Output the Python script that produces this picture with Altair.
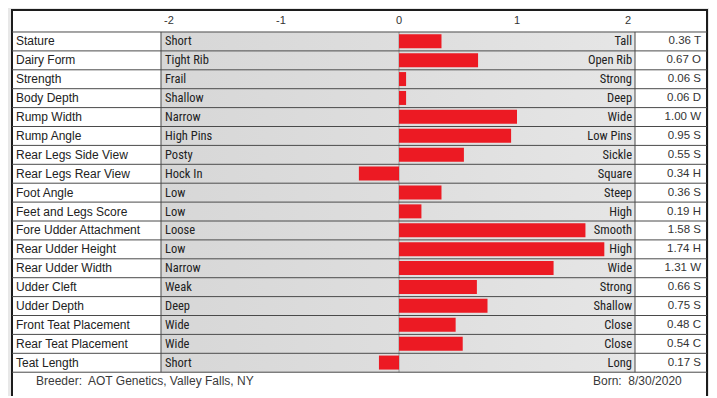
import altair as alt
import pandas as pd

# ---------------- data ----------------
traits = ["Stature", "Dairy Form", "Strength", "Body Depth", "Rump Width", "Rump Angle",
          "Rear Legs Side View", "Rear Legs Rear View", "Foot Angle", "Feet and Legs Score",
          "Fore Udder Attachment", "Rear Udder Height", "Rear Udder Width", "Udder Cleft",
          "Udder Depth", "Front Teat Placement", "Rear Teat Placement", "Teat Length"]
low_labels = ["Short", "Tight Rib", "Frail", "Shallow", "Narrow", "High Pins", "Posty", "Hock In",
              "Low", "Low", "Loose", "Low", "Narrow", "Weak", "Deep", "Wide", "Wide", "Short"]
high_labels = ["Tall", "Open Rib", "Strong", "Deep", "Wide", "Low Pins", "Sickle", "Square",
               "Steep", "High", "Smooth", "High", "Wide", "Strong", "Shallow", "Close", "Close", "Long"]
values = [0.36, 0.67, 0.06, 0.06, 1.00, 0.95, 0.55, -0.34, 0.36, 0.19,
          1.58, 1.74, 1.31, 0.66, 0.75, 0.48, 0.54, -0.17]
codes = ["T", "O", "S", "D", "W", "S", "S", "H", "S", "H", "S", "H", "W", "S", "S", "C", "C", "S"]
tick_values = [-2, -1, 0, 1, 2]
tick_labels = ["-2", "-1", "0", "1", "2"]
breeder_text = "Breeder:\u00a0 AOT Genetics, Valley Falls, NY"
born_text = "Born:\u00a0 8/30/2020"

# ---------------- layout (in scale units) ----------------
W, H = 701, 388
X_DOM = [-3.3136, 2.6271]
Y_DOM = [-1.2698, 19.259]
PANEL_L, PANEL_R = -3.2797, 2.6102
PANEL_T, PANEL_B = -1.164, 19.6
BAR_L, BAR_R = -2.017, 2.0
TRAIT_X = -3.2458
LOW_X = -1.983
HIGH_X = 1.975
VAL_X = 2.5593
FOOT_Y = 18.47
HEAD_Y = -0.6
BREEDER_X = -3.0763
BORN_X = 2.02

xs = alt.Scale(domain=X_DOM, nice=False, zero=False)
ys = alt.Scale(domain=Y_DOM, nice=False, zero=False, reverse=True)


def X(f):
    return alt.X(f, type="quantitative", scale=xs, axis=None)


def X2(f):
    return alt.X2(f)


def Y(f):
    return alt.Y(f, type="quantitative", scale=ys, axis=None)


n = len(traits)
rows = pd.DataFrame({
    "row": list(range(n)),
    "trait": traits,
    "low": low_labels,
    "high": high_labels,
    "value": values,
    "vlabel": [f"{abs(v):.2f} {c}" for v, c in zip(values, codes)],
})
rows["y0"] = rows["row"]
rows["y1"] = rows["row"] + 1
rows["ym"] = rows["row"] + 0.5
rows["by0"] = rows["row"] + 0.12
rows["by1"] = rows["row"] + 0.86
rows["zero"] = 0.0
rows["bl"] = BAR_L
rows["br"] = BAR_R
rows["tx"] = TRAIT_X
rows["lx"] = LOW_X
rows["hx"] = HIGH_X
rows["vx"] = VAL_X

panel_df = pd.DataFrame({"x": [PANEL_L], "x2": [PANEL_R], "y": [PANEL_T], "y2": [PANEL_B]})
hlines = pd.DataFrame({"y": list(range(n + 1)), "x": PANEL_L, "x2": PANEL_R})
vlines = pd.DataFrame({"x": [BAR_L, BAR_R], "y": [0, 0], "y2": [n, n]})
zline = pd.DataFrame({"x": [0.0], "y": [0], "y2": [n]})
ticks = pd.DataFrame({"v": tick_values, "lab": tick_labels, "y": HEAD_Y})
foot = pd.DataFrame({"x": [BREEDER_X], "y": [FOOT_Y], "t": [breeder_text]})
foot2 = pd.DataFrame({"x": [BORN_X], "y": [FOOT_Y], "t": [born_text]})

SANS = "Liberation Sans, Arial, sans-serif"
NARROW = "Liberation Sans Narrow, Arial Narrow, Roboto Condensed, Roboto, sans-serif"

panel = alt.Chart(panel_df).mark_rect(fill="white", stroke="#1c1c1c", strokeWidth=2, clip=True).encode(
    x=X("x"), x2=X2("x2"), y=Y("y"), y2=alt.Y2("y2"))

grad = alt.Gradient(gradient="linear", x1=0, x2=1, y1=0, y2=0,
                    stops=[alt.GradientStop(color="#d7d7d7", offset=0),
                           alt.GradientStop(color="#dddddd", offset=0.45),
                           alt.GradientStop(color="#e6e6e6", offset=1)])
cells = alt.Chart(rows).mark_rect(fill=grad).encode(
    x=X("bl"), x2=X2("br"), y=Y("y0"), y2=alt.Y2("y1"))

zero_rule = alt.Chart(zline).mark_rule(color="#9a9a9a", strokeWidth=1).encode(
    x=X("x"), y=Y("y"), y2=alt.Y2("y2"))

bars = alt.Chart(rows).mark_rect(color="#ec1a23").encode(
    x=X("zero"), x2=X2("value"), y=Y("by0"), y2=alt.Y2("by1"))

hrules = alt.Chart(hlines).mark_rule(color="#4a4a4a", strokeWidth=1).encode(
    x=X("x"), x2=X2("x2"), y=Y("y"))

vrules = alt.Chart(vlines).mark_rule(color="#4a4a4a", strokeWidth=1).encode(
    x=X("x"), y=Y("y"), y2=alt.Y2("y2"))

trait_txt = alt.Chart(rows).mark_text(align="left", baseline="middle", font=SANS,
                                      fontSize=12, color="#222222").encode(
    x=X("tx"), y=Y("ym"), text="trait:N")

low_txt = alt.Chart(rows).mark_text(align="left", baseline="middle", font=NARROW,
                                    fontSize=12.5, color="#222222").encode(
    x=X("lx"), y=Y("ym"), text="low:N")

high_txt = alt.Chart(rows).mark_text(align="right", baseline="middle", font=NARROW,
                                     fontSize=12.5, color="#222222").encode(
    x=X("hx"), y=Y("ym"), text="high:N")

val_txt = alt.Chart(rows).mark_text(align="right", baseline="middle", font=SANS,
                                    fontSize=11.5, color="#333333").encode(
    x=X("vx"), y=Y("ym"), text="vlabel:N")

tick_mid = alt.Chart(ticks).transform_filter("datum.v > -2 && datum.v < 2").mark_text(
    align="center", baseline="middle", font=SANS, fontSize=11, color="#333333").encode(
    x=X("v"), y=Y("y"), text="lab:N")
tick_lo = alt.Chart(ticks).transform_filter("datum.v <= -2").mark_text(
    align="left", baseline="middle", font=SANS, fontSize=11, color="#333333", dx=1).encode(
    x=X("v"), y=Y("y"), text="lab:N")
tick_hi = alt.Chart(ticks).transform_filter("datum.v >= 2").mark_text(
    align="right", baseline="middle", font=SANS, fontSize=11, color="#333333", dx=-4).encode(
    x=X("v"), y=Y("y"), text="lab:N")

breeder = alt.Chart(foot).mark_text(align="left", baseline="middle", font=SANS,
                                    fontSize=12, color="#3a3a3a").encode(
    x=X("x"), y=Y("y"), text="t:N")
born = alt.Chart(foot2).mark_text(align="center", baseline="middle", font=SANS,
                                  fontSize=12, color="#3a3a3a").encode(
    x=X("x"), y=Y("y"), text="t:N")

chart = alt.layer(panel, cells, zero_rule, bars, hrules, vrules, trait_txt, low_txt, high_txt,
                  val_txt, tick_mid, tick_lo, tick_hi, breeder, born).properties(
    width=W, height=H, padding=0, autosize=alt.AutoSizeParams(type="none"),
    background="#e8e8e8"
).configure_view(stroke=None)

chart.save("out.html", embed_options={"renderer": "svg", "actions": False})
